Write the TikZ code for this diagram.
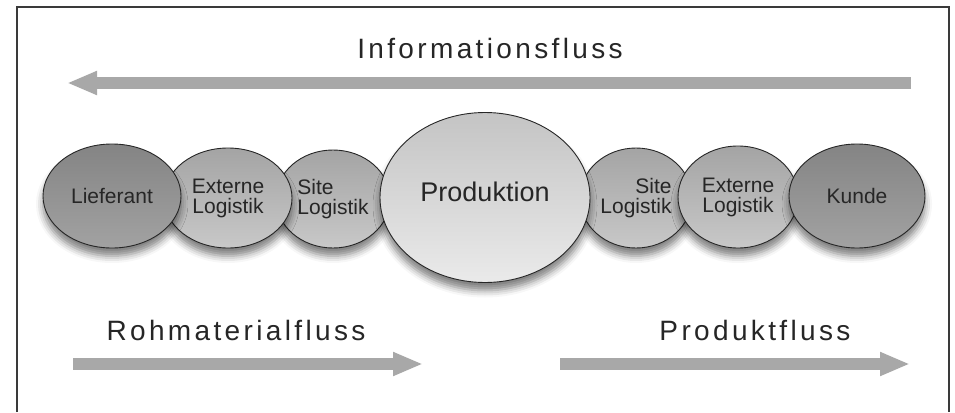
\documentclass[tikz,border=0pt]{standalone}
\usepackage{fontspec}
\setmainfont{Liberation Sans}
\newfontfamily\flowfont[LetterSpace=12]{Liberation Sans}
\usetikzlibrary{arrows.meta, shapes.geometric, shadows.blur}
\definecolor{framegray}{RGB}{58,58,58}
\definecolor{flowgray}{RGB}{168,168,168}
\definecolor{textgray}{RGB}{38,38,38}
\definecolor{endtop}{RGB}{132,132,132}
\definecolor{endbot}{RGB}{162,162,162}
\definecolor{midtop}{RGB}{164,164,164}
\definecolor{midbot}{RGB}{200,200,200}
\definecolor{coretop}{RGB}{196,196,196}
\definecolor{corebot}{RGB}{234,234,234}

\begin{document}
\begin{tikzpicture}[x=1pt,y=-1pt,
		stage/.style={ellipse,draw=black!85,line width=0.9pt,inner sep=0pt,text=textgray,
			blur shadow={shadow xshift=0pt,shadow yshift=-8pt,shadow blur radius=7pt,shadow opacity=50},
			font=\fontsize{21}{20}\selectfont},
		endstage/.style={stage,top color=endtop,bottom color=endbot},
		midstage/.style={stage,top color=midtop,bottom color=midbot},
		corestage/.style={stage,top color=coretop,bottom color=corebot,font=\fontsize{27}{27}\selectfont},
		flow/.style={line width=12.5pt,flowgray,-{Triangle[length=30pt,width=22pt]}},
		flowlabel/.style={anchor=base,text=textgray,font=\flowfont\fontsize{28}{28}\selectfont}]
		\useasboundingbox (0,0) rectangle (955,412);
		\draw[line width=1.2pt,framegray] (17,412) |- (949,7) -- (949,412);
		
		% information runs back from the customer
		\node[flowlabel] (info) at (490,58.5) {Informationsfluss};
		\coordinate (info-from) at (911,83);
		\coordinate (info-to) at (67,83);
		\draw[flow] (info-from) -- (info-to);
		
		% the chain, drawn back to front
		\node[midstage,minimum width=114pt,minimum height=98pt,align=left] (siteL) at (333,199) {Site\\Logistik};
		\node[midstage,minimum width=112pt,minimum height=100pt,align=right] (siteR) at (636,198) {Site\\Logistik};
		\node[midstage,minimum width=128pt,minimum height=100pt,align=center] (extL) at (228,198) {Externe\\Logistik};
		\node[midstage,minimum width=120pt,minimum height=102pt,align=center] (extR) at (738,197) {Externe\\Logistik};
		\node[endstage,minimum width=138pt,minimum height=104pt] (supplier) at (112,196) {Lieferant};
		\node[endstage,minimum width=136pt,minimum height=104pt] (customer) at (857,196) {Kunde};
		\node[corestage,minimum width=210pt,minimum height=170pt,text depth=12pt] (production) at (485,197.5) {Produktion};
		
		% material and product flows
		\node[flowlabel] (raw) at (236,340) {Rohmaterialfluss};
		\coordinate (raw-from) at (73,364);
		\coordinate (raw-to) at (423,364);
		\draw[flow] (raw-from) -- (raw-to);
		\node[flowlabel] (product) at (755,340) {Produktfluss};
		\coordinate (product-from) at (560,364);
		\coordinate (product-to) at (910,364);
		\draw[flow] (product-from) -- (product-to);
\end{tikzpicture}
\end{document}
